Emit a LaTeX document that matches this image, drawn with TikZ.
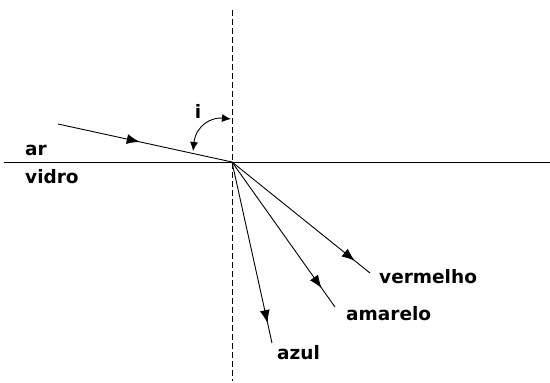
\documentclass[tikz,border=0pt]{standalone}
\usepackage{fontspec}
\setmainfont{DejaVu Sans}
\usetikzlibrary{arrows.meta,decorations.markings}
\begin{document}
\begin{tikzpicture}[x=1pt,y=-1pt,
  lbl/.style={font=\fontsize{18.5}{18.5}\selectfont\bfseries, inner sep=0pt},
  ray/.style={line width=0.9pt, postaction={decorate}, decoration={markings,
     mark=at position #1 with {\arrow{Latex[length=13pt,width=10pt]}}}},
  axis/.style={line width=1pt}]
\useasboundingbox (0,0) rectangle (550,383);
\coordinate (O) at (232,162);
\coordinate (L) at (4,162);
\coordinate (R) at (550,162);
\coordinate (T) at (232,10);
\coordinate (B) at (232,381);
\coordinate (S) at (58,124);
\coordinate (Ev) at (370,273);
\coordinate (Ea) at (335,307);
\coordinate (Ez) at (272,343);
\coordinate (A1) at (193,151);
\coordinate (A2) at (231,119);
\draw[axis] (L) -- (R);
\draw[line width=0.9pt, dash pattern=on 6pt off 3pt] (T) -- (B);
\draw[ray=0.47] (S) -- (O);
\draw[ray=0.89] (O) -- (Ev);
\draw[ray=0.87] (O) -- (Ea);
\draw[ray=0.89] (O) -- (Ez);
\draw[line width=0.9pt, {Latex[length=9pt,width=8pt]}-{Latex[length=9pt,width=8pt]}] (A1) .. controls (196,125) and (212,117) .. (A2);
\node[lbl, anchor=base west] (ar) at (25,155) {ar};
\node[lbl, anchor=base west] (vidro) at (25,183) {vidro};
\node[lbl, anchor=base] (i) at (198,118) {i};
\node[lbl, anchor=base west] (vermelho) at (379,283) {vermelho};
\node[lbl, anchor=base west] (amarelo) at (346,320) {amarelo};
\node[lbl, anchor=base west] (azul) at (277,359) {azul};
\end{tikzpicture}
\end{document}
